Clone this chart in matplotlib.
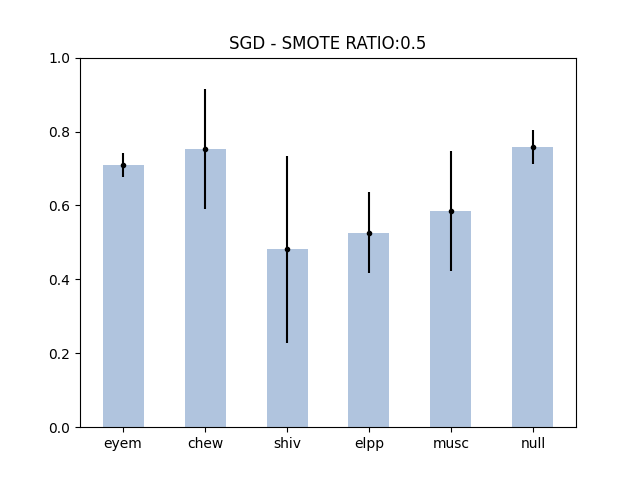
import matplotlib
matplotlib.use("Agg")
import matplotlib.pyplot as plt
import numpy as np

categories = ["eyem", "chew", "shiv", "elpp", "musc", "null"]
means = [0.710, 0.753, 0.482, 0.526, 0.585, 0.759]
errors = [0.033, 0.162, 0.253, 0.110, 0.163, 0.046]

fig, ax = plt.subplots(figsize=(6.4, 4.8), dpi=100)
x = np.arange(len(categories))
ax.bar(x, means, width=0.5, color="lightsteelblue")
ax.errorbar(x, means, yerr=errors, fmt=".", color="black", ecolor="black", elinewidth=1.5, markersize=6)
ax.set_xticks(x)
ax.set_xticklabels(categories)
ax.set_ylim(0, 1.0)
ax.set_title("SGD - SMOTE RATIO:0.5")
fig.savefig("out.png", dpi=100)
